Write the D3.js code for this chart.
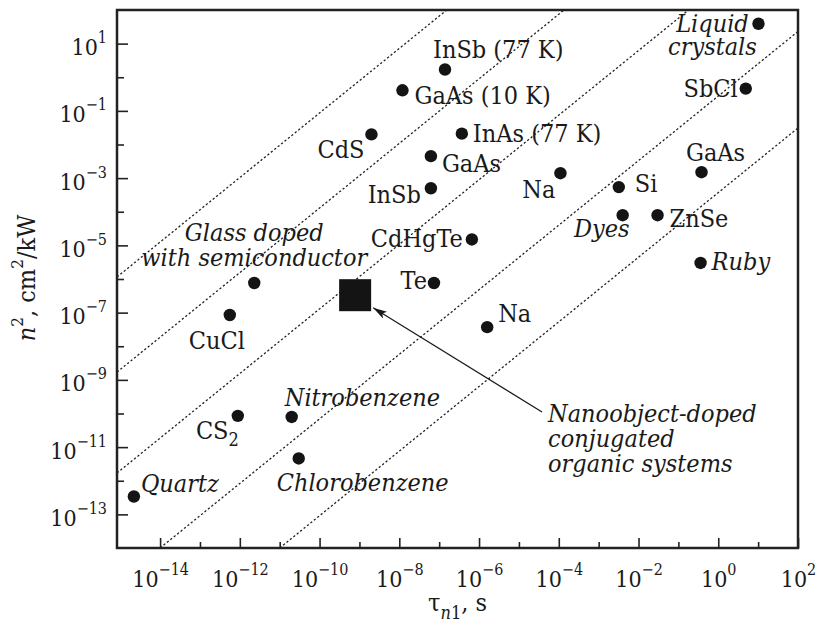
<!DOCTYPE html>
<html>
<head>
<meta charset="utf-8">
<script src="https://cdn.jsdelivr.net/npm/d3@7"></script>
<style>
body { margin: 0; background: #fff; }
svg text { fill: #1a1a1a; }
</style>
</head>
<body>
<div id="chart"></div>
<script>
// materials (tau in s, n2 in cm^2/kW)
var names = ["Quartz", "CS_2", "CuCl", "Glass doped|with semiconductor", "Nitrobenzene", "Chlorobenzene",
    "CdS", "GaAs (10 K)", "InSb (77 K)", "InAs (77 K)", "GaAs", "InSb", "CdHgTe", "Te", "Na", "Na",
    "Si", "Dyes", "ZnSe", "GaAs", "Ruby", "SbCl", "Liquid|crystals"];
var tauValues = [2.2e-15, 8.9e-13, 5.6e-13, 2.3e-12, 2.0e-11, 3.0e-11,
    2.0e-9, 1.2e-8, 1.4e-7, 3.7e-7, 6.2e-8, 6.2e-8, 6.6e-7, 7.4e-8, 1.6e-6, 1.1e-4,
    3.2e-3, 4.0e-3, 3.0e-2, 0.38, 0.36, 4.9, 10.2];
var n2Values = [3.4e-13, 8.5e-11, 8.5e-8, 7.6e-7, 7.9e-11, 4.6e-12,
    2.0e-2, 0.41, 1.7, 2.1e-2, 4.5e-3, 5.0e-4, 1.5e-5, 7.6e-7, 3.7e-8, 1.4e-3,
    5.4e-4, 7.9e-5, 7.9e-5, 1.5e-3, 3.0e-6, 0.46, 39];
var italicNames = ["Quartz", "Glass doped|with semiconductor", "Nitrobenzene", "Chlorobenzene",
    "Dyes", "Ruby", "Liquid|crystals"];

// the nanoobject square and its annotation
var nanoTau = 7.8e-10;
var nanoN2 = 3.3e-7;
var nanoLines = ["Nanoobject-doped", "conjugated", "organic systems"];
var arrowTail = [3.8e-5, 1.1e-10];
var arrowTip = [2.2e-9, 1.4e-7];

// dotted guide lines (start and end, [tau, n2])
var guideStart = [[8.3e-16, 1.15e-6], [8.3e-16, 1.7e-9], [8.3e-16, 1.7e-12], [1e-14, 1e-14], [1e-11, 1e-14]];
var guideEnd = [[1.55e-7, 100], [1.35e-4, 100], [0.18, 100], [100, 23], [100, 3.1e-2]];

// ticks (exponents)
var xMajor = [-14, -12, -10, -8, -6, -4, -2, 0, 2];
var xMinor = [-13, -11, -9, -7, -5, -3, -1, 1];
var yMajor = [1, -1, -3, -5, -7, -9, -11, -13];
var yMinor = [0, -2, -4, -6, -8, -10, -12];

// label placement, one per material: [anchor, dx, dy, line height]
var labelPos = [
    ["start", 7, -5, 0], ["end", 1, 23, 0], ["middle", -13, 34, 0], ["middle", 0, -42, 25],
    ["start", -7, -11, 0], ["start", -22, 33, 0],
    ["end", -7, 24, 0], ["start", 12, 14, 0], ["start", -12, -12, 0], ["start", 11, 8, 0],
    ["start", 11, 16, 0], ["end", -10, 15, 0], ["end", -9, 8, 0], ["end", -7, 6, 0],
    ["start", 11, -5, 0], ["end", -5, 25, 0],
    ["start", 16, 5, 0], ["end", 7, 22, 0], ["start", 12, 12, 0], ["middle", 14, -11, 0],
    ["start", 11, 7, 0], ["end", -8, 8, 0], ["middle", -46, 8, 23]
];

var W = 818, H = 626;
var margin = {left: 117, right: 20, top: 10, bottom: 78};
var FONT = "DejaVu Serif Condensed";

var svg = d3.select("#chart").append("svg")
    .attr("width", W)
    .attr("height", H)
    .style("font-family", FONT);

var x = d3.scaleLog().domain([8.3e-16, 100]).range([margin.left, W - margin.right]);
var y = d3.scaleLog().domain([1e-14, 100]).range([H - margin.bottom, margin.top]);

var pow = function(e) { return Math.pow(10, e); };

// superscript tick labels 10^n
function supLabels(sel, ex, ey) {
    sel.selectAll(".tick text").each(function(d) {
        var e = Math.round(Math.log10(d));
        var t = d3.select(this);
        t.text(null).attr("dy", null).attr("x", ex).attr("y", ey);
        t.append("tspan").text("10");
        t.append("tspan").attr("dy", -12).attr("font-size", 16).text(e < 0 ? "\u2212" + (-e) : e);
    });
}

var bottom = H - margin.bottom;

var xMajAxis = svg.append("g")
    .attr("transform", "translate(0," + bottom + ")")
    .call(d3.axisBottom(x).tickValues(xMajor.map(pow)).tickSize(-10).tickFormat(function() { return "x"; }));
xMajAxis.attr("font-size", 23).attr("font-family", null);
supLabels(xMajAxis, 0, 39);

svg.append("g")
    .attr("transform", "translate(0," + bottom + ")")
    .call(d3.axisBottom(x).tickValues(xMinor.map(pow)).tickSize(-6).tickFormat(""));

var yMajAxis = svg.append("g")
    .attr("transform", "translate(" + margin.left + ",0)")
    .call(d3.axisLeft(y).tickValues(yMajor.map(pow)).tickSize(-11).tickFormat(function() { return "x"; }));
yMajAxis.attr("font-size", 23).attr("font-family", null);
supLabels(yMajAxis, -10, 11);

svg.append("g")
    .attr("transform", "translate(" + margin.left + ",0)")
    .call(d3.axisLeft(y).tickValues(yMinor.map(pow)).tickSize(-7).tickFormat(""));

svg.selectAll(".domain").remove();
svg.selectAll(".tick line").attr("stroke", "#222").attr("stroke-width", 1.6);

// guide lines
svg.append("g").selectAll("line")
    .data(guideStart)
    .enter().append("line")
    .attr("x1", function(d) { return x(d[0]); })
    .attr("y1", function(d) { return y(d[1]); })
    .attr("x2", function(d, i) { return x(guideEnd[i][0]); })
    .attr("y2", function(d, i) { return y(guideEnd[i][1]); })
    .attr("stroke", "#222")
    .attr("stroke-width", 1.3)
    .attr("stroke-dasharray", "2.2,2.2");

// points
var pts = names.map(function(n, i) { return {name: n, tau: tauValues[i], n2: n2Values[i], pos: labelPos[i]}; });

svg.append("g").selectAll("circle")
    .data(pts)
    .enter().append("circle")
    .attr("cx", function(d) { return x(d.tau); })
    .attr("cy", function(d) { return y(d.n2); })
    .attr("r", 6.2)
    .attr("fill", "#141414");

// labels
var lab = svg.append("g").attr("font-size", 25);
pts.forEach(function(d) {
    var t = lab.append("text")
        .attr("x", x(d.tau) + d.pos[1])
        .attr("y", y(d.n2) + d.pos[2])
        .attr("text-anchor", d.pos[0])
        .style("font-style", italicNames.indexOf(d.name) >= 0 ? "italic" : "normal");
    if (d.name.indexOf("_") >= 0) {
        var parts = d.name.split("_");
        t.append("tspan").text(parts[0]);
        t.append("tspan").attr("dy", 7).attr("font-size", 18).text(parts[1]);
    } else {
        d.name.split("|").forEach(function(s, k) {
            t.append("tspan")
                .attr("x", x(d.tau) + d.pos[1])
                .attr("dy", k == 0 ? 0 : d.pos[3])
                .text(s);
        });
    }
});

// nanoobject square
var side = 32;
svg.append("rect")
    .attr("x", x(nanoTau) - side / 2)
    .attr("y", y(nanoN2) - side / 2)
    .attr("width", side)
    .attr("height", side)
    .attr("fill", "#141414");

svg.append("defs").append("marker")
    .attr("id", "arrow")
    .attr("markerUnits", "userSpaceOnUse")
    .attr("viewBox", "0 0 14 8")
    .attr("markerWidth", 14)
    .attr("markerHeight", 8)
    .attr("refX", 14)
    .attr("refY", 4)
    .attr("orient", "auto")
    .append("path")
    .attr("d", "M0,0 L14,4 L0,8 L3,4 z")
    .attr("fill", "#1a1a1a");

svg.append("line")
    .attr("x1", x(arrowTail[0]))
    .attr("y1", y(arrowTail[1]))
    .attr("x2", x(arrowTip[0]))
    .attr("y2", y(arrowTip[1]))
    .attr("stroke", "#1a1a1a")
    .attr("stroke-width", 1.2)
    .attr("marker-end", "url(#arrow)");

var nano = svg.append("text")
    .attr("font-size", 25)
    .style("font-style", "italic")
    .attr("x", x(arrowTail[0]) + 6)
    .attr("y", y(arrowTail[1]) + 10);
nanoLines.forEach(function(s, k) {
    nano.append("tspan").attr("x", x(arrowTail[0]) + 6).attr("dy", k == 0 ? 0 : 25).text(s);
});

// frame
svg.append("rect")
    .attr("x", margin.left)
    .attr("y", margin.top)
    .attr("width", W - margin.left - margin.right)
    .attr("height", H - margin.top - margin.bottom)
    .attr("fill", "none")
    .attr("stroke", "#222")
    .attr("stroke-width", 2.5);

// axis titles
var yt = svg.append("text")
    .attr("font-size", 25)
    .attr("text-anchor", "middle")
    .attr("transform", "translate(35,278) rotate(-90)");
yt.append("tspan").style("font-style", "italic").text("n");
yt.append("tspan").attr("dy", -12).attr("font-size", 17).text("2");
yt.append("tspan").attr("dy", 12).text(", cm");
yt.append("tspan").attr("dy", -12).attr("font-size", 17).text("2");
yt.append("tspan").attr("dy", 12).text("/kW");

var xt = svg.append("text")
    .attr("font-size", 25)
    .attr("text-anchor", "middle")
    .attr("x", (margin.left + W - margin.right) / 2)
    .attr("y", 611);
xt.append("tspan").text("\u03c4");
xt.append("tspan").attr("dy", 8).attr("font-size", 18).style("font-style", "italic").text("n");
xt.append("tspan").attr("font-size", 18).text("1");
xt.append("tspan").attr("dy", -8).text(", s");
</script>
</body>
</html>
